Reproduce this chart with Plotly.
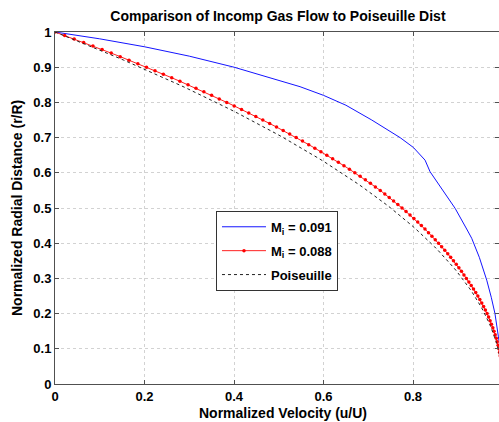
import plotly.graph_objects as go

# ---- data ----
radius = [1.00, 0.99, 0.98, 0.97, 0.96, 0.95, 0.94, 0.93, 0.92, 0.91,
          0.90, 0.89, 0.88, 0.87, 0.86, 0.85, 0.84, 0.83, 0.82, 0.81,
          0.80, 0.79, 0.78, 0.77, 0.76, 0.75, 0.74, 0.73, 0.72, 0.71,
          0.70, 0.69, 0.68, 0.67, 0.66, 0.65, 0.64, 0.63, 0.62, 0.61,
          0.60, 0.59, 0.58, 0.57, 0.56, 0.55, 0.54, 0.53, 0.52, 0.51,
          0.50, 0.49, 0.48, 0.47, 0.46, 0.45, 0.44, 0.43, 0.42, 0.41,
          0.40, 0.39, 0.38, 0.37, 0.36, 0.35, 0.34, 0.33, 0.32, 0.31,
          0.30, 0.29, 0.28, 0.27, 0.26, 0.25, 0.24, 0.23, 0.22, 0.21,
          0.20, 0.19, 0.18, 0.17, 0.16, 0.15, 0.14, 0.13, 0.12, 0.11,
          0.10, 0.09, 0.08]

vel_m088 = [0.0, 0.0216, 0.0429, 0.0640, 0.0848, 0.1053, 0.1256, 0.1457, 0.1655, 0.1851,
            0.2044, 0.2234, 0.2422, 0.2608, 0.2791, 0.2972, 0.3150, 0.3326, 0.3499, 0.3670,
            0.3838, 0.4004, 0.4168, 0.4329, 0.4487, 0.4643, 0.4797, 0.4949, 0.5098, 0.5244,
            0.5388, 0.5530, 0.5669, 0.5806, 0.5941, 0.6073, 0.6203, 0.6331, 0.6456, 0.6579,
            0.6699, 0.6818, 0.6934, 0.7047, 0.7158, 0.7267, 0.7369, 0.7468, 0.7565, 0.7660,
            0.7753, 0.7843, 0.7932, 0.8019, 0.8104, 0.8186, 0.8266, 0.8345, 0.8421, 0.8496,
            0.8569, 0.8639, 0.8708, 0.8775, 0.8840, 0.8903, 0.8965, 0.9024, 0.9081, 0.9137,
            0.9192, 0.9247, 0.9300, 0.9351, 0.9400, 0.9447, 0.9492, 0.9535, 0.9576, 0.9616,
            0.9653, 0.9688, 0.9721, 0.9752, 0.9782, 0.9809, 0.9835, 0.9859, 0.9880, 0.9900,
            0.9918, 0.9934, 0.9948]

vel_pois = [0.0, 0.0199, 0.0396, 0.0591, 0.0784, 0.0975, 0.1164, 0.1351, 0.1536, 0.1719,
            0.1900, 0.2079, 0.2256, 0.2431, 0.2604, 0.2775, 0.2944, 0.3111, 0.3276, 0.3439,
            0.3600, 0.3759, 0.3916, 0.4071, 0.4224, 0.4375, 0.4524, 0.4671, 0.4816, 0.4959,
            0.5100, 0.5239, 0.5376, 0.5511, 0.5644, 0.5775, 0.5904, 0.6031, 0.6156, 0.6279,
            0.6400, 0.6519, 0.6636, 0.6751, 0.6864, 0.6975, 0.7084, 0.7191, 0.7296, 0.7399,
            0.7500, 0.7599, 0.7696, 0.7791, 0.7884, 0.7975, 0.8064, 0.8151, 0.8236, 0.8319,
            0.8400, 0.8479, 0.8556, 0.8631, 0.8704, 0.8775, 0.8844, 0.8911, 0.8976, 0.9039,
            0.9100, 0.9159, 0.9216, 0.9271, 0.9324, 0.9375, 0.9424, 0.9471, 0.9516, 0.9559,
            0.9600, 0.9639, 0.9676, 0.9711, 0.9744, 0.9775, 0.9804, 0.9831, 0.9856, 0.9879,
            0.9900, 0.9919, 0.9936]

vel_m091 = [0.0, 0.10, 0.20, 0.30, 0.40, 0.50, 0.5475, 0.60, 0.65, 0.7077,
            0.74, 0.771, 0.8007, 0.8268, 0.838, 0.868, 0.894, 0.921, 0.931, 0.948,
            0.9646, 0.975, 0.983, 0.9907, 0.997]
rad_m091 = [1.0, 0.9806, 0.958, 0.9314, 0.900, 0.8631, 0.8446, 0.820, 0.792, 0.750,
            0.725, 0.700, 0.672, 0.636, 0.603, 0.546, 0.499, 0.4375, 0.414, 0.360,
            0.295, 0.245, 0.200, 0.134, 0.08]

legend_names = ["M<sub>i</sub> = 0.091", "M<sub>i</sub> = 0.088", "Poiseuille"]
x_ticks = [0, 0.2, 0.4, 0.6, 0.8]
x_tick_text = ["0", "0.2", "0.4", "0.6", "0.8"]
y_ticks = [0, 0.1, 0.2, 0.3, 0.4, 0.5, 0.6, 0.7, 0.8, 0.9, 1.0]
y_tick_text = ["0", "0.1", "0.2", "0.3", "0.4", "0.5", "0.6", "0.7", "0.8", "0.9", "1"]

FONT = "Liberation Sans, Arial, sans-serif"
axis_col = "#505050"
grid_col = "#d2d2d2"

fig = go.Figure()
fig.add_trace(go.Scatter(x=vel_m091, y=rad_m091, mode="lines", name=legend_names[0],
                         line=dict(color="#1414ff", width=1), legendgroup="a"))
fig.add_trace(go.Scatter(x=vel_m088, y=radius, mode="lines+markers", name=legend_names[1],
                         line=dict(color="#ff2020", width=1),
                         marker=dict(color="#ff0000", size=3.5), legendgroup="b"))
fig.add_trace(go.Scatter(x=vel_pois, y=radius, mode="lines", name=legend_names[2],
                         line=dict(color="#222222", width=1, dash="dot"), legendgroup="c"))
# empty trace so the right-hand tick axis is drawn
fig.add_trace(go.Scatter(x=[None], y=[None], yaxis="y2", showlegend=False, hoverinfo="skip"))

fig.update_layout(
    width=499, height=422,
    margin=dict(l=55, r=0, t=32, b=38),
    paper_bgcolor="white", plot_bgcolor="white",
    font=dict(family=FONT, size=13, color="black", weight="bold"),
    title=dict(text="Comparison of Incomp Gas Flow to Poiseuille Dist",
               font=dict(family=FONT, size=14, weight="bold", color="black"),
               xref="container", x=0.557, xanchor="center",
               yref="container", y=0.962, yanchor="middle"),
    xaxis=dict(range=[0, 0.992], tickvals=x_ticks, ticktext=x_tick_text,
               showline=True, linecolor=axis_col, linewidth=1, mirror="ticks",
               ticks="inside", ticklen=4, tickcolor=axis_col,
               showgrid=True, gridcolor=grid_col, griddash="dot", gridwidth=1,
               zeroline=False, tickfont=dict(size=13, weight="bold")),
    yaxis=dict(range=[0, 1], tickvals=y_ticks, ticktext=y_tick_text,
               showline=True, linecolor=axis_col, linewidth=1, mirror=False,
               ticks="inside", ticklen=4, tickcolor=axis_col,
               showgrid=True, gridcolor=grid_col, griddash="dot", gridwidth=1,
               zeroline=False, tickfont=dict(size=13, weight="bold")),
    yaxis2=dict(range=[0, 1], overlaying="y", side="right", tickvals=y_ticks,
                showticklabels=False, ticks="inside", ticklen=4, tickcolor=axis_col,
                showline=False, showgrid=False, zeroline=False),
    legend=dict(x=0.3626, y=0.492, xanchor="left", yanchor="top",
                bgcolor="white", bordercolor="#333333", borderwidth=1,
                font=dict(family=FONT, size=13, weight="bold"),
                tracegroupgap=4, itemwidth=44),
    showlegend=True,
    annotations=[
        dict(text="Normalized Velocity (u/U)", xref="paper", yref="paper",
             x=0.5135, y=0, xanchor="center", yanchor="middle", yshift=-29,
             showarrow=False, font=dict(family=FONT, size=14, weight="bold")),
        dict(text="Normalized Radial Distance (r/R)", xref="paper", yref="paper",
             x=0, y=0.5, xanchor="center", yanchor="middle", xshift=-38, textangle=-90,
             showarrow=False, font=dict(family=FONT, size=14, weight="bold")),
    ],
)

fig.write_html("out.html", config={"displayModeBar": False},
               post_script="document.body.style.margin='0px';")
